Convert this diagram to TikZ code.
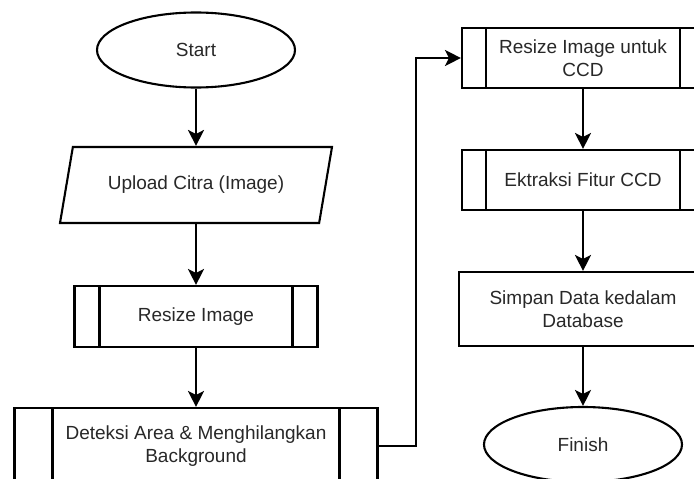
\documentclass[tikz,border=0pt]{standalone}
\usepackage{fontspec}
\setmainfont{Liberation Sans}
\usetikzlibrary{shapes.geometric,arrows.meta}
\definecolor{txt}{RGB}{40,40,40}
\tikzset{
  every node/.style={font=\fontsize{19}{22.5}\selectfont, text=txt, inner sep=0pt, align=center},
  shape line/.style={draw=black, line width=2.1pt},
  terminal/.style={shape line, ellipse, minimum width=198pt, minimum height=75pt},
  iobox/.style={shape line, trapezium, trapezium left angle=54, trapezium right angle=126,
    trapezium stretches body, minimum width=272pt, minimum height=76pt},
  procbox/.style={shape line, rectangle},
  subproc/.style={shape line, rectangle,
    path picture={
      \draw[line width=2.1pt]
        ([xshift=#1]path picture bounding box.north west) -- ([xshift=#1]path picture bounding box.south west)
        ([xshift=-#1]path picture bounding box.north east) -- ([xshift=-#1]path picture bounding box.south east);
    }},
  flow/.style={line width=2.1pt, -{Stealth[length=16pt, width=16pt, inset=4pt]}},
}
\begin{document}
\begin{tikzpicture}[x=1pt, y=-1pt]
  \clip (0,0) rectangle (694,479);
  \useasboundingbox (0,0) rectangle (694,479);
  \fill[white] (0,0) rectangle (694,479);

  % left column
  \node[terminal] (start) at (196,50) {Start};
  \node[iobox] (upload) at (196,185) {Upload Citra (Image)};
  \node[subproc=25pt, minimum width=243pt, minimum height=61pt] (resize) at (196,316.5) {Resize Image};
  \node[subproc=38pt, minimum width=363pt, minimum height=76pt] (detect) at (196,446)
    {Deteksi Area \& Menghilangkan\\Background};

  % right column
  \node[subproc=24pt, minimum width=242pt, minimum height=60pt] (ccdresize) at (583,58)
    {Resize Image untuk\\CCD};
  \node[subproc=24pt, minimum width=242pt, minimum height=60pt] (extract) at (583,180) {Ektraksi Fitur CCD};
  \node[procbox, minimum width=248pt, minimum height=74pt] (store) at (583,309)
    {Simpan Data kedalam\\Database};
  \node[terminal] (finish) at (583,444.5) {Finish};

  % connectors
  \draw[flow] (start.south) -- (start.south |- upload.north);
  \draw[flow] (resize.north |- upload.south) -- (resize.north);
  \draw[flow] (resize.south) -- (detect.north);
  \draw[flow] (detect.east) -- ++(37,0) |- (ccdresize.west);
  \draw[flow] (ccdresize.south) -- (extract.north);
  \draw[flow] (extract.south) -- (store.north);
  \draw[flow] (store.south) -- (finish.north);
\end{tikzpicture}
\end{document}
